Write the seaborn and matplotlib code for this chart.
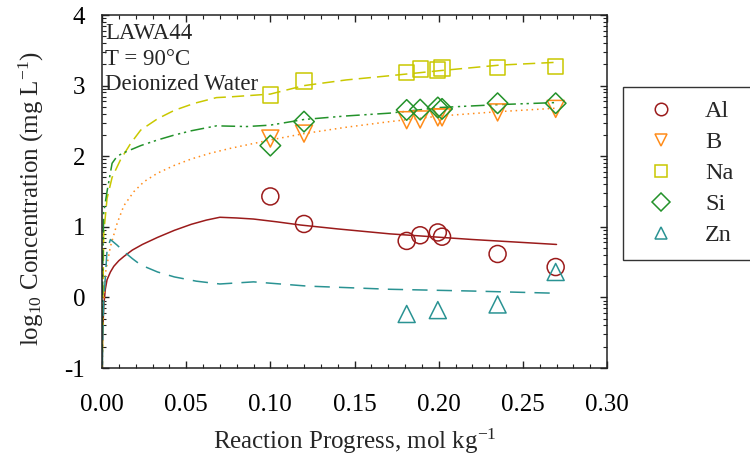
import numpy as np
import pandas as pd
import matplotlib
matplotlib.use("Agg")
import matplotlib.pyplot as plt
from matplotlib.lines import Line2D
from matplotlib.ticker import FixedLocator, MultipleLocator
import seaborn as sns

# ---- measured data points ----
al_x = [0.10, 0.12, 0.181, 0.189, 0.1995, 0.202, 0.235, 0.2695]
al_y = [1.43, 1.04, 0.80, 0.88, 0.92, 0.86, 0.615, 0.43]
b_x = [0.10, 0.12, 0.181, 0.189, 0.1995, 0.202, 0.235, 0.2695]
b_y = [2.25, 2.32, 2.51, 2.52, 2.55, 2.55, 2.62, 2.67]
na_x = [0.10, 0.12, 0.181, 0.189, 0.1995, 0.202, 0.235, 0.2695]
na_y = [2.867, 3.065, 3.18, 3.235, 3.22, 3.25, 3.26, 3.27]
si_x = [0.10, 0.12, 0.181, 0.189, 0.1995, 0.202, 0.235, 0.2695]
si_y = [2.15, 2.49, 2.655, 2.66, 2.69, 2.67, 2.75, 2.75]
zn_x = [0.181, 0.1995, 0.235, 0.2695]
zn_y = [-0.235, -0.18, -0.10, 0.36]

# ---- model curves ----
al_cx = [0, 0.0003, 0.001, 0.002, 0.003, 0.005, 0.007, 0.010, 0.013, 0.018, 0.024, 0.033,
         0.043, 0.053, 0.062, 0.070, 0.08, 0.09, 0.104, 0.118, 0.14, 0.171, 0.22, 0.27]
al_cy = [-1.3, -0.6, -0.13, 0.12, 0.25, 0.36, 0.44, 0.52, 0.58, 0.67, 0.75, 0.85,
         0.95, 1.035, 1.095, 1.135, 1.125, 1.11, 1.07, 1.025, 0.97, 0.90, 0.82, 0.75]
b_cx = [0, 0.0005, 0.001, 0.002, 0.005, 0.009, 0.013, 0.019, 0.025, 0.033, 0.043, 0.053,
        0.064, 0.076, 0.088, 0.10, 0.12, 0.145, 0.171, 0.201, 0.235, 0.27]
b_cy = [-1.3, -0.5, -0.13, 0.34, 0.72, 1.05, 1.3, 1.5, 1.64, 1.76, 1.87, 1.96,
        2.04, 2.11, 2.17, 2.23, 2.32, 2.41, 2.49, 2.57, 2.63, 2.68]
na_cx = [0, 0.001, 0.003, 0.006, 0.011, 0.017, 0.023, 0.033, 0.043, 0.055, 0.068, 0.076,
         0.10, 0.12, 0.145, 0.171, 0.20, 0.236, 0.27]
na_cy = [-1.3, 0.9, 1.4, 1.7, 1.95, 2.18, 2.37, 2.53, 2.65, 2.75, 2.83, 2.84,
         2.88, 3.00, 3.08, 3.14, 3.21, 3.29, 3.33]
si_cx = [0, 0.0005, 0.001, 0.003, 0.006, 0.009, 0.013, 0.023, 0.033, 0.043, 0.053, 0.068,
         0.086, 0.10, 0.12, 0.145, 0.171, 0.201, 0.235, 0.27]
si_cy = [-1.3, 0.5, 1.2, 1.5, 1.9, 2.0, 2.05, 2.15, 2.23, 2.30, 2.36, 2.43,
         2.42, 2.44, 2.52, 2.57, 2.61, 2.69, 2.73, 2.76]
zn_cx = [0, 0.0005, 0.001, 0.003, 0.005, 0.009, 0.013, 0.018, 0.023, 0.033, 0.043, 0.056,
         0.07, 0.09, 0.122, 0.171, 0.22, 0.268]
zn_cy = [-1.3, -0.5, -0.08, 0.67, 0.82, 0.74, 0.65, 0.55, 0.46, 0.36, 0.29, 0.23,
         0.19, 0.22, 0.16, 0.115, 0.09, 0.06]

labels = ["Al", "B", "Na", "Si", "Zn"]
x_ticks = [0.00, 0.05, 0.10, 0.15, 0.20, 0.25, 0.30]
y_ticks = [-1, 0, 1, 2, 3, 4]

sns.set_theme(style="white")
plt.rcParams["font.family"] = ["Liberation Serif", "DejaVu Serif"]
plt.rcParams["mathtext.fontset"] = "custom"
plt.rcParams["mathtext.rm"] = "Liberation Serif"
plt.rcParams["mathtext.it"] = "Liberation Serif:italic"

colors = {"Al": "#9b1b1b", "B": "#ff8c1a", "Na": "#c9c800", "Si": "#23922a", "Zn": "#2a9393"}
markers = {"Al": "o", "B": "v", "Na": "s", "Si": "D", "Zn": "^"}
msize = {"Al": 150, "B": 150, "Na": 120, "Si": 110, "Zn": 150}
dashes = {"Al": None, "B": (1, 2.5), "Na": (8, 4), "Si": (9, 3, 1.5, 2.5, 1.5, 3), "Zn": (10, 6)}

curves = {"Al": (al_cx, al_cy), "B": (b_cx, b_cy), "Na": (na_cx, na_cy),
          "Si": (si_cx, si_cy), "Zn": (zn_cx, zn_cy)}
points = {"Al": (al_x, al_y), "B": (b_x, b_y), "Na": (na_x, na_y),
          "Si": (si_x, si_y), "Zn": (zn_x, zn_y)}

fig = plt.figure(figsize=(7.5, 4.61), dpi=100)
ax = fig.add_axes([102 / 750, 1 - 368 / 461, 505 / 750, 353 / 461])

for el in labels:
    cx, cy = curves[el]
    df = pd.DataFrame({"x": cx, "y": cy})
    sns.lineplot(data=df, x="x", y="y", ax=ax, color=colors[el], lw=1.1, sort=False,
                 estimator=None)
    ln = ax.lines[-1]
    if dashes[el] is not None:
        ln.set_dashes(dashes[el])

for el in labels:
    px, py = points[el]
    dp = pd.DataFrame({"x": px, "y": py})
    sns.scatterplot(data=dp, x="x", y="y", ax=ax, marker=markers[el], s=msize[el],
                    linewidth=1.1, zorder=5)
    coll = ax.collections[-1]
    coll.set_facecolor("none")
    coll.set_edgecolor(colors[el])

ax.set_xlim(0, 0.30)
ax.set_ylim(-1, 4)
ax.set_xticks(x_ticks)
ax.set_xticklabels([f"{t:.2f}" for t in x_ticks])
ax.set_yticks(y_ticks)
ax.set_yticklabels([str(t) for t in y_ticks])
ax.xaxis.set_minor_locator(MultipleLocator(0.01))
minor_y = [k + np.log10(m) for k in range(-1, 4) for m in range(2, 10)]
ax.yaxis.set_minor_locator(FixedLocator(minor_y))

ax.tick_params(axis="both", which="both", direction="in", top=True, right=True,
               bottom=True, left=True, colors="#222222", labelcolor="black")
ax.tick_params(axis="both", which="major", length=5, width=1, labelsize=18)
ax.tick_params(axis="both", which="minor", length=3, width=0.8)
ax.tick_params(axis="x", which="major", pad=18.5)
ax.tick_params(axis="y", which="major", pad=12)
for s in ax.spines.values():
    s.set_color("#222222")
    s.set_linewidth(1.1)

ax.set_xlabel("Reaction Progress, mol kg$^{\\mathrm{-1}}$", fontsize=18, labelpad=8)
ax.set_ylabel("log$_{\\mathrm{10}}$ Concentration (mg L$^{\\mathrm{-1}}$)", fontsize=18)
ax.yaxis.set_label_coords(-0.11, 0.48)

ax.text(0.006, 0.978, "LAWA44\nT = 90\u00b0C\nDeionized Water", transform=ax.transAxes,
        ha="left", va="top", fontsize=16.5, linespacing=1.3)

handles = [Line2D([], [], linestyle="none", marker=markers[el], markersize=9,
                  markerfacecolor="none", markeredgecolor=colors[el], markeredgewidth=1.1)
           for el in labels]
leg = fig.legend(handles, labels, loc="upper left",
                 bbox_to_anchor=(623 / 750, 1 - 87 / 461, 140 / 750, 0.0001), mode="expand",
                 frameon=True, fontsize=17.5, handletextpad=0.78, borderpad=0.55,
                 labelspacing=0.37, borderaxespad=0, handlelength=2.05, fancybox=False)
leg.get_frame().set_edgecolor("black")
leg.get_frame().set_linewidth(1.0)

fig.savefig("out.png", dpi=100)
